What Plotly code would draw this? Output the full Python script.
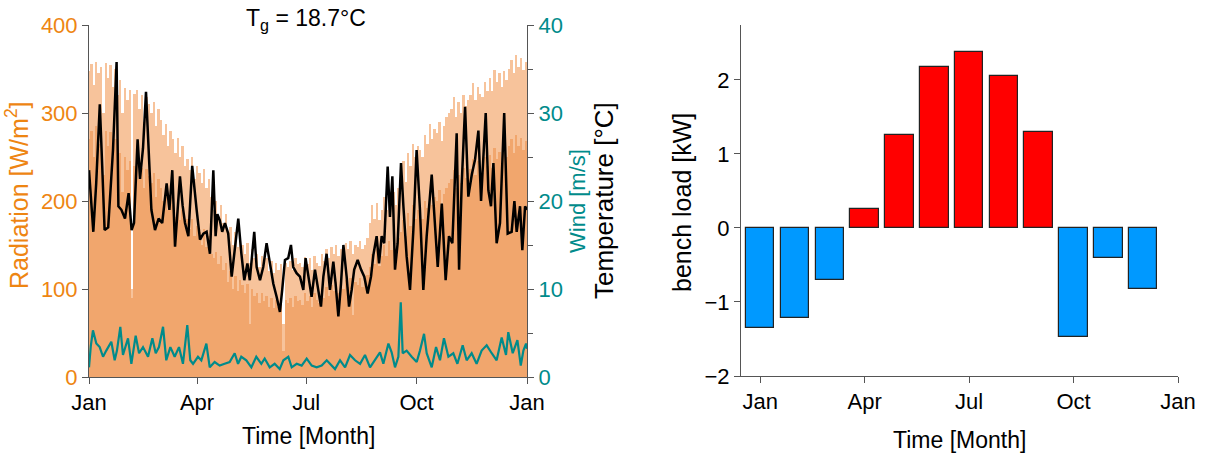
import numpy as np
import plotly.graph_objects as go

# ---------------- data: left panel ----------------
# daily radiation (2-day steps starting Jan 1), light "peak" layer and darker "base" layer [W/m2]
rad_peak = [348, 356, 332, 358, 345, 352, 300, 357, 340, 355, 330, 350,
            320, 338, 300, 328, 315, 326, 100, 322,
            326, 305, 320, 290, 318, 310, 300, 312, 285, 305,
            292, 275, 288, 262, 280, 270, 255, 272, 250, 262, 240,
            248, 235, 250, 225, 240, 232, 220, 236, 215, 225, 205,
            190, 200, 182, 195, 175, 185, 160, 170, 150, 165, 148, 160,
            150, 140, 152, 130, 145, 135, 140, 125, 138, 128, 135, 120, 132, 118, 130, 122, 128,
            60, 130, 125, 132, 122, 135, 128, 130, 125, 136,
            128, 135, 122, 138, 130, 126, 140, 132,
            145, 135, 148, 140, 150, 138, 146, 142,
            152, 145, 155, 140, 150, 148, 154, 145, 150, 158,
            175, 195, 180, 198, 178, 190,
            205, 190, 212, 198, 210, 195, 215,
            230, 245, 222, 255, 240, 265, 250, 262, 258,
            250, 275, 265, 288, 270, 282, 277, 290, 268, 285, 295, 300,
            305, 318, 296, 312, 300, 320, 308, 315,
            320, 334, 315, 330, 322, 318, 335, 325,
            340, 325, 349, 335, 345, 330, 348, 338, 350,
            360, 345, 366, 352, 362, 349, 358]
rad_base = [270, 280, 250, 285, 265, 275, 230, 280, 262, 278, 250, 270,
            240, 255, 210, 250, 235, 245, 90, 240,
            245, 225, 238, 215, 236, 228, 220, 232, 205, 225,
            215, 200, 212, 190, 205, 195, 182, 198, 178, 190, 172,
            180, 168, 180, 160, 172, 165, 150, 168, 148, 160, 140,
            135, 142, 128, 138, 122, 130, 108, 120, 100, 115, 98, 110,
            105, 95, 106, 60, 100, 92, 96, 84, 95, 86, 92, 80, 90, 78, 88, 80, 86,
            30, 88, 84, 90, 80, 92, 86, 88, 82, 95,
            86, 92, 80, 96, 88, 84, 98, 90,
            102, 92, 105, 98, 108, 95, 104, 100,
            110, 102, 112, 70, 108, 104, 112, 102, 108, 116,
            125, 140, 128, 145, 126, 138,
            150, 138, 155, 144, 154, 140, 158,
            165, 178, 160, 186, 172, 195, 180, 190, 186,
            180, 200, 192, 210, 196, 205, 200, 212, 195, 208, 215, 220,
            225, 235, 215, 230, 220, 238, 226, 232,
            236, 248, 230, 245, 238, 232, 250, 240,
            252, 238, 260, 248, 256, 242, 260, 250, 262,
            270, 255, 275, 262, 272, 258, 268]
rad_day = np.arange(len(rad_peak)) * 2

temp_day = [0, 1.5, 3.6, 6, 9, 11, 13, 16, 18, 20, 23, 24.5, 27, 30, 33, 35.5, 37.5, 40.5, 42.5, 45,
            47.5, 50, 52, 55, 58, 61, 64.7, 67, 69.4, 71.7, 75.8, 78, 80, 82.8, 86, 89.7, 92.5, 95.3,
            98, 100.8, 103.6, 105.5, 107, 109, 111, 113.3, 116, 118.9, 121.6, 124.4, 127, 129.4, 132,
            134, 137.7, 139.7, 142.5, 145.2, 148, 150.8, 153.6, 156.4, 159.1, 161, 163.3, 166, 168.3,
            170.2, 173, 175.8, 178.6, 180.5, 183, 185.5, 188.3, 191, 193.3, 195.3, 198, 200.8, 203.6,
            205.5, 207.8, 210, 212, 214.7, 216.7, 218.9, 221, 223.9, 226.7, 229.4, 232.2, 235, 237,
            239.7, 241.7, 243.9, 246, 248.9, 250.8, 252.8, 255, 257.2, 260, 262, 264.7, 267.5, 270.3,
            273, 275.8, 278.6, 281.4, 285.6, 287.8, 290.6, 294, 297.2, 300, 302.8, 306.4, 308.4,
            310.6, 313.4, 316.1, 319, 321.7, 324.5, 326.7, 328.6, 330.6, 332.8, 335, 337, 339.7,
            342.5, 346, 348.9, 352.2, 354.5, 356.4, 359.2, 361.1, 363.4, 365]
temp_val = [23.5, 20, 16.5, 22, 31, 24, 16.7, 17, 21, 25.8, 35.8, 19.4, 19, 18, 20.9, 16.7, 17.5, 27, 22.5, 26,
            32.4, 25.5, 19, 16.7, 18, 17.5, 22, 19, 23.5, 14.8, 22.8, 19.5, 17.5, 16, 24, 19, 15.6, 16.3,
            16.5, 14, 23.5, 16, 18.5, 17.8, 16.5, 17.5, 16.3, 11.4, 14.4, 18, 14, 11, 12.9,
            11, 16.5, 12.5, 11, 12.5, 15.2, 12.9, 10.6, 9.1, 7.4, 9.9, 13.3, 13.5, 15,
            12.5, 11.8, 11.4, 9.9, 13.5, 11.2, 9.1, 12.2, 9.9, 8, 11.4, 14, 9.9, 13.1,
            10.6, 6.9, 10.6, 15, 11.4, 8, 9.9, 12.2, 13.3, 12.2, 11.4, 9.5, 11.4, 13.9,
            16, 12.9, 16, 15.2, 23.9, 18.2, 22.8, 12.2, 15.2, 24.3, 19.4, 13.7, 9.9, 16.7,
            25.8, 19, 9.9, 16, 23, 18.2, 12.5, 19.7, 11, 16, 15.2, 27.7, 12.2,
            22, 30.7, 20.5, 23, 24.7, 28, 20, 24.3, 30, 21.2, 19.4, 24.3, 15.2,
            17.5, 30, 16.3, 16.5, 20, 16.5, 19.4, 14.4, 19.4, 19]

wind_day = [0, 1.5, 3.3, 6.1, 8.9, 11.7, 14.4, 18.6, 21.4, 23.3, 26.1, 28.3, 32.5, 35.3, 38.9, 41.7, 45,
            49.2, 52.8, 55.6, 58.3, 61.7, 64.4, 67.8, 71.4, 75, 78.3, 81.9, 84.4, 86.7, 90.8, 93.6, 97.8,
            100.6, 104.7, 108.9, 113, 117.2, 121.4, 124.2, 126.9, 131.1, 135.3, 139.4, 143.6, 146.4,
            150.6, 154.7, 158.9, 162, 166.1, 168.9, 173.1, 177.2, 181.4, 185.6, 189.7, 193.9, 198.1,
            200.9, 205, 209.2, 213.4, 217.5, 221.7, 225.9, 230, 234.2, 238.4, 242.5, 245.3, 249.5,
            252.2, 255, 257.8, 259.8, 261.4, 264.7, 268.9, 273.1, 275.8, 279.2, 281.4, 285.6, 289.2,
            292.5, 295.8, 299.5, 303.6, 307, 311.4, 314.7, 318.9, 323, 327.2, 331.4, 335.6, 339.7,
            343.9, 347.5, 349.4, 353.1, 357, 359.8, 362, 364.2, 365]
wind_val = [1.1, 3.5, 5.3, 3.8, 3.4, 2.3, 3.0, 4.0, 1.9, 3.0, 5.7, 2.5, 4.4, 1.5, 4.7, 2.7, 3.4,
            2.3, 4.4, 2.7, 3.4, 5.7, 1.9, 3.4, 2.3, 3.4, 1.5, 5.9, 1.9, 1.5, 2.3, 1.9, 3.8,
            1.1, 1.7, 1.3, 1.5, 1.7, 2.7, 1.5, 2.3, 1.9, 1.1, 2.3, 1.5, 2.1,
            1.1, 1.5, 0.9, 1.9, 2.3, 1.1, 1.5, 1.3, 2.1, 1.3, 1.1, 1.3, 1.9,
            1.5, 0.9, 1.9, 1.1, 2.5, 1.9, 1.5, 2.5, 1.1, 1.9, 2.8, 1.5, 3.8,
            2.8, 1.1, 2.3, 8.5, 2.7, 3.0, 2.3, 1.7, 3.0, 4.9, 2.7, 1.1, 3.4,
            1.9, 4.4, 2.3, 2.7, 1.5, 3.6, 1.9, 2.7, 1.5, 3.0, 3.6, 2.7, 1.9,
            4.5, 2.5, 5.1, 2.7, 4.2, 1.3, 3.0, 3.8, 3.2]

month_ticks = [0, 90, 181, 273, 365]
month_labels = ["Jan", "Apr", "Jul", "Oct", "Jan"]

# ---------------- data: right panel ----------------
months = list(range(12))
bench_load = [-1.35, -1.21, -0.70, 0.26, 1.25, 2.17, 2.37, 2.05, 1.29, -1.47, -0.41, -0.82]
right_ticks = [0, 3, 6, 9, 12]

ORANGE = "#EE8512"
TEAL = "#008B8B"
AX = "#555555"
FONT = "Liberation Sans, Arial, sans-serif"
FS = 22

W, H = 1205, 457
def px(x):
    return x / W
def py(y):
    return (H - y) / H

fig = go.Figure()
fig.add_trace(go.Bar(x=rad_day, y=rad_peak, width=2, marker=dict(color="#F7C39B", line=dict(width=0)),
                     xaxis="x", yaxis="y", hoverinfo="skip"))
fig.add_trace(go.Bar(x=rad_day, y=rad_base, width=2, marker=dict(color="#F1A66D", line=dict(width=0)),
                     xaxis="x", yaxis="y", hoverinfo="skip"))
fig.add_trace(go.Scatter(x=temp_day, y=temp_val, mode="lines", line=dict(color="black", width=2.5),
                         xaxis="x", yaxis="y2"))
fig.add_trace(go.Scatter(x=wind_day, y=wind_val, mode="lines", line=dict(color=TEAL, width=2.2),
                         xaxis="x", yaxis="y2"))
colors = ["#FF0000" if v > 0 else "#0099FF" for v in bench_load]
fig.add_trace(go.Bar(x=months, y=bench_load, width=0.82,
                     marker=dict(color=colors, line=dict(color="#222222", width=1.2)),
                     xaxis="x2", yaxis="y3"))

axis_common = dict(showline=True, linecolor=AX, linewidth=1, ticks="outside", tickcolor=AX,
                   ticklen=6, showgrid=False, zeroline=False, automargin=False,
                   tickfont=dict(family=FONT, size=FS, color="black"))

fig.update_layout(
    width=W, height=H, margin=dict(l=0, r=0, t=0, b=0, autoexpand=False),
    paper_bgcolor="white", plot_bgcolor="white", showlegend=False,
    barmode="overlay", bargap=0,
    font=dict(family=FONT, size=FS, color="black"),
    xaxis=dict(domain=[px(89), px(527)], range=[0, 365], tickvals=month_ticks, ticktext=month_labels,
               anchor="y", **axis_common),
    yaxis=dict(domain=[py(377), py(25)], range=[0, 400], tickvals=[0, 100, 200, 300, 400], anchor="x",
               **{**axis_common, "tickfont": dict(family=FONT, size=FS, color=ORANGE)}),
    yaxis2=dict(overlaying="y", side="right", anchor="x", range=[0, 40], tickvals=[0, 10, 20, 30, 40],
                minor=dict(tickvals=[5, 15, 25, 35], ticks="outside", ticklen=5, tickcolor=AX),
                **{**axis_common, "tickfont": dict(family=FONT, size=FS, color=TEAL)}),
    xaxis2=dict(domain=[px(741), px(1178)], range=[-0.55, 12], tickvals=right_ticks,
                ticktext=month_labels, anchor="y3", **axis_common),
    yaxis3=dict(domain=[py(376), py(25)], range=[-2, 2.74], tickvals=[-2, -1, 0, 1, 2], anchor="x2",
                **axis_common),
)

ann = [
    dict(x=px(306), y=py(19), text="T<sub>g</sub> = 18.7°C", font=dict(size=23)),
    dict(x=px(17), y=py(195), text="Radiation [W/m<sup>2</sup>]", textangle=-90, font=dict(size=25, color=ORANGE)),
    dict(x=px(577), y=py(201), text="Wind [m/s]", textangle=-90, font=dict(size=22, color=TEAL)),
    dict(x=px(604), y=py(201), text="Temperature [°C]", textangle=-90, font=dict(size=26, color="black")),
    dict(x=px(308), y=py(436), text="Time [Month]", font=dict(size=23)),
    dict(x=px(682), y=py(203), text="bench load [kW]", textangle=-90, font=dict(size=25)),
    dict(x=px(960), y=py(440), text="Time [Month]", font=dict(size=23)),
]
for a in ann:
    fig.add_annotation(xref="paper", yref="paper", showarrow=False, xanchor="center", yanchor="middle",
                       **a)

fig.write_html("out.html")
